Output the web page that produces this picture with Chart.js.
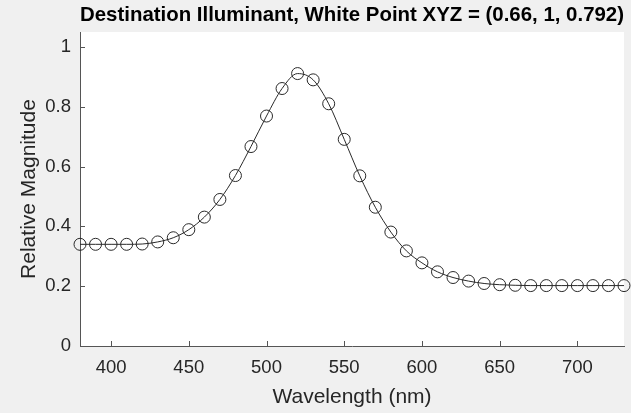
<!DOCTYPE html>
<html>
<head>
<meta charset="utf-8">
<script src="https://cdn.jsdelivr.net/npm/chart.js@4/dist/chart.umd.min.js"></script>
<style>
  html, body { margin: 0; padding: 0; background: #f0f0f0; }
  #wrap { width: 631px; height: 413px; position: relative; }
</style>
</head>
<body>
<div id="wrap"><canvas id="chart"></canvas></div>
<script>
  // wavelengths (nm) and relative magnitude
  var wavelengths = [380, 390, 400, 410, 420, 430, 440, 450, 460, 470, 480, 490, 500, 510,
                     520, 530, 540, 550, 560, 570, 580, 590, 600, 610, 620, 630, 640, 650,
                     660, 670, 680, 690, 700, 710, 720, 730];
  var magnitudes = [0.340, 0.340, 0.340, 0.340, 0.341, 0.348, 0.362, 0.389, 0.431, 0.490, 0.570, 0.667, 0.769, 0.861,
                    0.911, 0.890, 0.810, 0.691, 0.569, 0.464, 0.381, 0.318, 0.278, 0.248, 0.229, 0.217, 0.209, 0.205,
                    0.203, 0.202, 0.202, 0.202, 0.202, 0.202, 0.202, 0.202];
  var xTicks = [400, 450, 500, 550, 600, 650, 700];
  var yTicks = [0, 0.2, 0.4, 0.6, 0.8, 1];

  var axisColor = '#555555';
  var textColor = '#262626';
  var fontFamily = 'Liberation Sans, Arial, sans-serif';

  // white axes background
  var axesBg = {
    id: 'axesBg',
    beforeDraw: function(chart) {
      var a = chart.chartArea, ctx = chart.ctx;
      ctx.save();
      ctx.fillStyle = '#ffffff';
      ctx.fillRect(a.left, a.top, a.right - a.left, a.bottom - a.top);
      ctx.restore();
    }
  };

  // matlab style ticks pointing into the axes
  var inwardTicks = {
    id: 'inwardTicks',
    afterDatasetsDraw: function(chart) {
      var ctx = chart.ctx, a = chart.chartArea;
      var xs = chart.scales.x, ys = chart.scales.y;
      ctx.save();
      ctx.strokeStyle = axisColor;
      ctx.lineWidth = 1;
      ctx.beginPath();
      xTicks.forEach(function(v) {
        var px = Math.round(xs.getPixelForValue(v)) + 0.5;
        ctx.moveTo(px, a.bottom);
        ctx.lineTo(px, a.bottom - 5);
      });
      yTicks.forEach(function(v) {
        var py = Math.round(ys.getPixelForValue(v)) + 0.5;
        ctx.moveTo(a.left, py);
        ctx.lineTo(a.left + 5, py);
      });
      ctx.stroke();
      ctx.restore();
    }
  };

  var points = wavelengths.map(function(w, i) { return { x: w, y: magnitudes[i] }; });

  new Chart(document.getElementById('chart'), {
    type: 'line',
    data: {
      datasets: [{
        data: points,
        borderColor: '#2a2a2a',
        borderWidth: 1,
        cubicInterpolationMode: 'monotone',
        pointStyle: 'circle',
        pointRadius: 6,
        pointBorderWidth: 1,
        pointBorderColor: '#2a2a2a',
        pointBackgroundColor: 'rgba(0,0,0,0)',
        clip: false
      }]
    },
    options: {
      responsive: true,
      maintainAspectRatio: false,
      animation: false,
      layout: { padding: { left: 0, right: 5, top: 0, bottom: 0 } },
      plugins: {
        legend: { display: false },
        tooltip: { enabled: false },
        title: {
          display: true,
          fullSize: false,
          text: 'Destination Illuminant, White Point XYZ = (0.66, 1, 0.792)',
          align: 'center',
          color: '#000000',
          font: { family: fontFamily, size: 20.5, weight: 'bold' },
          padding: { top: 3.5, bottom: 3.9 }
        }
      },
      scales: {
        x: {
          type: 'linear',
          min: 380,
          max: 730,
          afterBuildTicks: function(scale) {
            scale.ticks = xTicks.map(function(v) { return { value: v }; });
          },
          afterFit: function(scale) { scale.height = 67; },
          grid: { display: true, drawOnChartArea: false, drawTicks: false },
          border: { display: true, color: axisColor, width: 1 },
          ticks: {
            color: textColor,
            padding: 11,
            maxRotation: 0,
            font: { family: fontFamily, size: 18.5 }
          },
          title: {
            display: true,
            text: 'Wavelength (nm)',
            color: textColor,
            font: { family: fontFamily, size: 21 },
            padding: { top: 0, bottom: 3.5 }
          }
        },
        y: {
          min: 0,
          max: 1.05,
          afterBuildTicks: function(scale) {
            scale.ticks = yTicks.map(function(v) { return { value: v }; });
          },
          afterFit: function(scale) { scale.width = 80; },
          grid: { display: true, drawOnChartArea: false, drawTicks: false },
          border: { display: true, color: axisColor, width: 1 },
          ticks: {
            color: textColor,
            padding: 9,
            font: { family: fontFamily, size: 18.5 },
            callback: function(v) { return String(Math.round(v * 10) / 10); }
          },
          title: {
            display: true,
            text: 'Relative Magnitude',
            color: textColor,
            font: { family: fontFamily, size: 21 },
            padding: { top: 17, bottom: 17 }
          }
        }
      }
    },
    plugins: [axesBg, inwardTicks]
  });
</script>
</body>
</html>
